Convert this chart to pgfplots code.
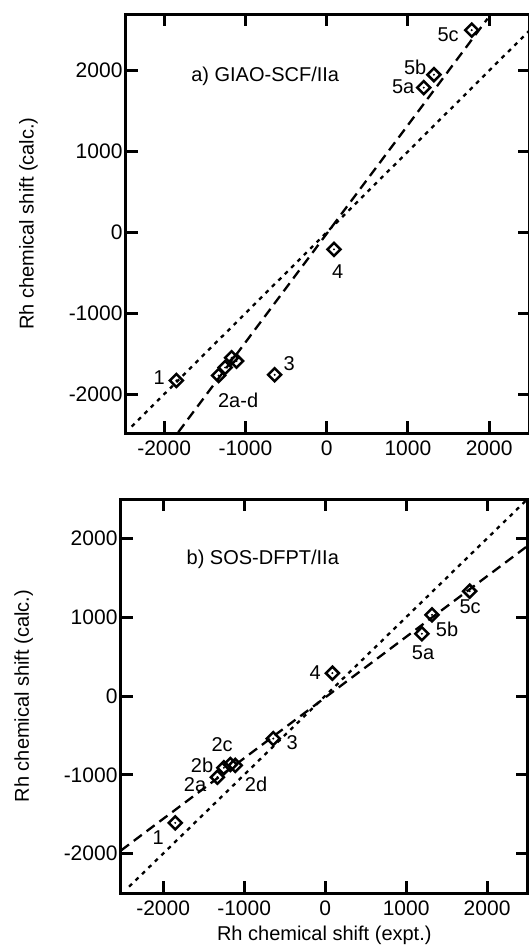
\documentclass[border=0pt]{standalone}
\usepackage{fontspec}
\setmainfont{Liberation Sans}
\usepackage{pgfplots}
\usepackage{pgfplotstable}
\pgfplotsset{compat=1.18}

% x = expt., a = GIAO-SCF/IIa, b = SOS-DFPT/IIa
\pgfplotstableread{
x     a      b
-1850 -1830 -1610
-1330 -1770 -1030
-1250 -1670  -910
-1170 -1550  -870
-1110 -1590  -880
-640  -1760  -540
90     -210   290
1195   1790   790
1320   1950  1030
1785   2500  1330
}\shifts

\newcommand{\lbl}{\fontsize{20}{23}\selectfont}
\newcommand{\tlbl}{\fontsize{21}{24}\selectfont}

\pgfplotsset{
  rhpanel/.style={
    scale only axis,
    axis line style={line width=3pt},
    every tick/.style={black, line width=3pt},
    major tick length=12pt,
    tick align=inside,
    xtick pos=both, ytick pos=both,
    xticklabel pos=lower, yticklabel pos=left,
    xtick={-2000,-1000,0,1000,2000},
    ytick={-2000,-1000,0,1000,2000},
    xticklabels={-2000,-1000,0,1000,2000},
    yticklabels={-2000,-1000,0,1000,2000},
    tick label style={font=\tlbl},
    xticklabel style={yshift=-4pt},
    label style={font=\lbl},
    ylabel={Rh chemical shift (calc.)},
    ylabel style={yshift=24pt},
  },
  fitdot/.style={black, line width=2.3pt, dash pattern=on 4pt off 5pt},
  fitdash/.style={black, line width=2.3pt, dash pattern=on 10pt off 6pt},
  pts/.style={only marks, mark=square, mark size=4.6pt,
    mark options={rotate=45, line width=2.5pt, black, fill=white}},
  ctr/.style={only marks, mark=*, mark size=0.8pt, black},
}

\begin{document}
\begin{tikzpicture}

% a) GIAO-SCF
\begin{axis}[rhpanel,
  at={(126pt,-14pt)}, anchor=north west,
  width=403.8pt, height=419pt,
  xmin=-2470, xmax=2500, ymin=-2480, ymax=2700]
  \addplot[fitdot] coordinates {(-2400,-2400) (2500,2500)};
  \addplot[fitdash] coordinates {(-1827,-2470) (1980,2643)};
  \addplot[pts] table[x=x, y=a] {\shifts};
  \addplot[ctr] table[x=x, y=a] {\shifts};
  \node[font=\lbl, anchor=west] at (axis cs:-1710,1930) {a) GIAO-SCF/IIa};
  \node[font=\lbl] at (axis cs:-2060,-1800) {1};
  \node[font=\lbl] at (axis cs:-1090,-2075) {2a-d};
  \node[font=\lbl] at (axis cs:-462,-1616) {3};
  \node[font=\lbl] at (axis cs:135,-483) {4};
  \node[font=\lbl] at (axis cs:941,1802) {5a};
  \node[font=\lbl] at (axis cs:1089,2037) {5b};
  \node[font=\lbl] at (axis cs:1495,2446) {5c};
\end{axis}

% b) SOS-DFPT
\begin{axis}[rhpanel,
  at={(121pt,-499pt)}, anchor=north west,
  width=406.6pt, height=394pt,
  xmin=-2520, xmax=2500, ymin=-2500, ymax=2500,
  xlabel={Rh chemical shift (expt.)},
  xlabel style={yshift=-4pt}]
  \addplot[fitdot] coordinates {(-2420,-2420) (2500,2500)};
  \addplot[fitdash] coordinates {(-2520,-1960) (2500,1905)};
  \addplot[pts] table[x=x, y=b] {\shifts};
  \addplot[ctr] table[x=x, y=b] {\shifts};
  \node[font=\lbl, anchor=west] at (axis cs:-1753,1733) {b) SOS-DFPT/IIa};
  \node[font=\lbl] at (axis cs:-2062,-1797) {1};
  \node[font=\lbl] at (axis cs:-1605,-1125) {2a};
  \node[font=\lbl] at (axis cs:-1519,-885) {2b};
  \node[font=\lbl] at (axis cs:-1272,-619) {2c};
  \node[font=\lbl] at (axis cs:-852,-1127) {2d};
  \node[font=\lbl] at (axis cs:-407,-594) {3};
  \node[font=\lbl] at (axis cs:-123,292) {4};
  \node[font=\lbl] at (axis cs:1210,546) {5a};
  \node[font=\lbl] at (axis cs:1506,851) {5b};
  \node[font=\lbl] at (axis cs:1790,1130) {5c};
\end{axis}

\pgfresetboundingbox
\path[use as bounding box] (0,0) rectangle (528pt,-946pt);
\end{tikzpicture}
\end{document}
